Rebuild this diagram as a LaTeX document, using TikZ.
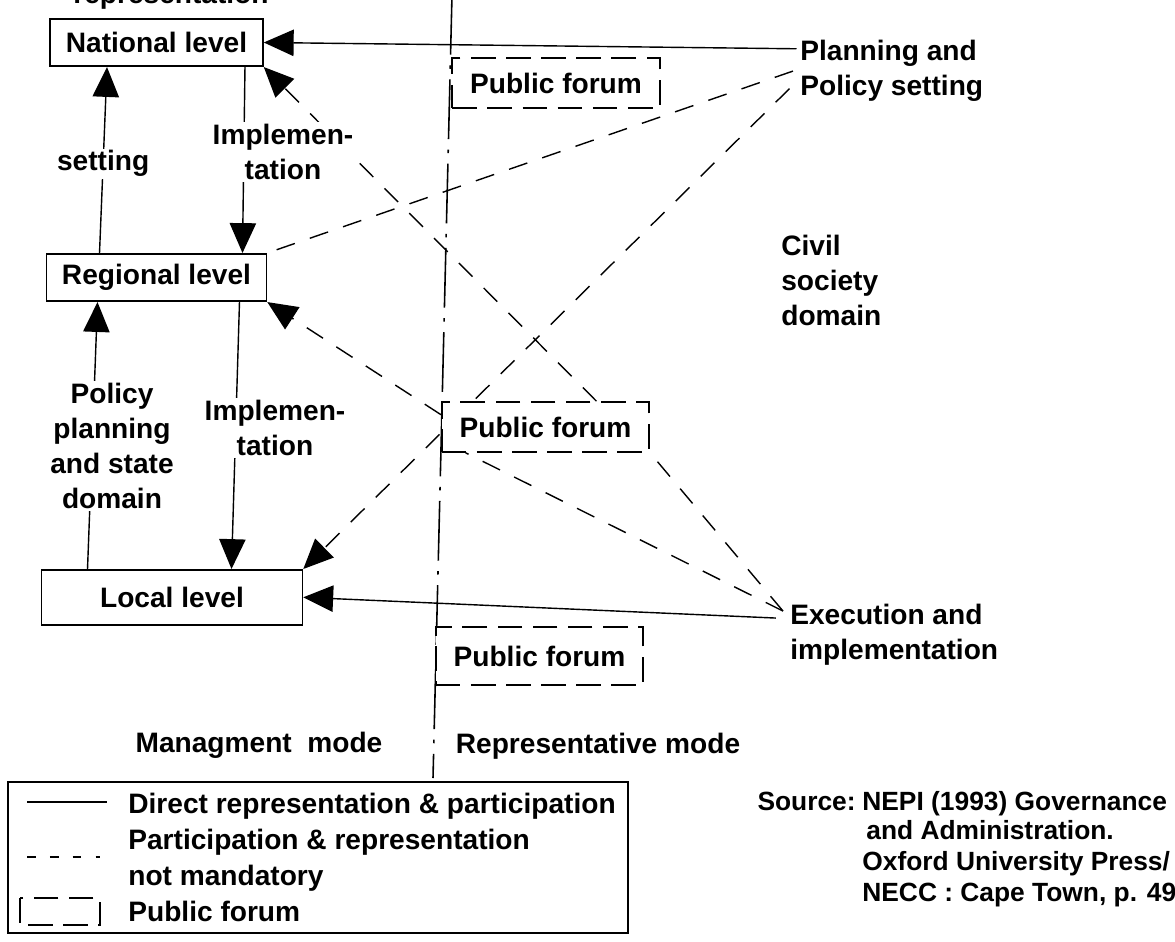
\documentclass[tikz,border=0pt]{standalone}
\usepackage{fontspec}
\setmainfont{Liberation Sans}
\usetikzlibrary{arrows.meta,positioning}

\begin{document}
\begin{tikzpicture}[
    x=0.02cm, y=-0.02cm,
    font=\bfseries\fontsize{16}{20}\selectfont,
    level/.style={rectangle, draw, line width=0.9pt, fill=white, inner sep=2pt, minimum height=0.95cm},
    forum/.style={rectangle, draw, line width=0.9pt, fill=white, dash pattern=on 14pt off 6pt, minimum width=4.15cm, minimum height=1cm},
    lbl/.style={fill=white, align=center, inner sep=1pt},
    txt/.style={align=left, inner sep=0pt},
    src/.style={txt, anchor=base west, font=\bfseries\fontsize{15}{18}\selectfont},
    line/.style={draw, line width=0.8pt, -{Triangle[length=17pt,width=15pt]}},
    dline/.style={line, dash pattern=on 11pt off 9pt},
    dpath/.style={draw, line width=0.8pt, dash pattern=on 11pt off 9pt},
    sline/.style={draw, line width=0.8pt},
    divider/.style={draw, line width=0.9pt, dash pattern=on 34pt off 6pt on 2pt off 6pt}
]
\pgfdeclarelayer{bg}
\pgfsetlayers{bg,main}
\useasboundingbox (0,0) rectangle (1175,942);

% ----------------------------
% State side: the three levels
% ----------------------------
\node[txt, anchor=base] (repr) at (171,4) {representation};
\node[level, minimum width=4.26cm] (national) at (156.5,42.5) {National level};
\node[level, minimum width=4.4cm, below=3.72cm of national] (regional) {Regional level};
\node[level, minimum width=5.22cm, minimum height=1.1cm, below=5.34cm of regional, xshift=0.31cm] (local) {Local level};

\node[lbl] (implup) at (283,152) {Implemen-\\tation};
\node[lbl] (impldown) at (275,428) {Implemen-\\tation};
\node[lbl] (policy) at (112,446) {Policy\\planning\\and state\\domain};

% ----------------------------
% Civil society side
% ----------------------------
\node[txt, anchor=north west] (planning) at (800,40) {Planning and\\Policy setting};
\node[txt, anchor=north west] (civil) at (781,235) {Civil\\society\\domain};
\node[txt, anchor=north west] (exec) at (790,604) {Execution and\\implementation};

\coordinate (planin) at ([xshift=-2pt,yshift=-5pt]planning.north west);
\coordinate (planout) at ([xshift=-4pt]planning.west);
\coordinate (planlow) at ([xshift=-6pt,yshift=-10pt]planning.west);
\coordinate (execin) at ([xshift=-8pt,yshift=-8pt]exec.north west);
\coordinate (execout) at ([xshift=-4pt,yshift=-4pt]exec.north west);

% public forums along the mode divider
\node[forum] (forumtop) at (556,83) {Public forum};
\node[forum] (forummid) at (545.5,427) {Public forum};
\node[forum, minimum height=1.16cm] (forumlow) at (539.5,656) {Public forum};

\coordinate (divtop) at (452,-5);
\coordinate (divbot) at (433,778);
\node (mgmt) at (259,745) {Managment\ \ mode};
\node (repmode) at (598,746) {Representative mode};

% ----------------------------
% Edges (background layer)
% ----------------------------
\begin{pgfonlayer}{bg}
\path[divider] (divtop) -- (divbot);

% up and down the state hierarchy
\path[line] ([xshift=-1.14cm]regional.north) -- node[lbl, pos=0.48] (setting) {setting} ([xshift=-0.99cm]national.south);
\path[line] ([xshift=1.77cm]national.south) -- ([xshift=1.72cm]regional.north);
\path[line] ([xshift=1.66cm]regional.south) -- ([xshift=1.19cm]local.north);
\path[line] ([xshift=-1.69cm]local.north) -- ([xshift=-1.18cm]regional.south);

% direct links
\path[line] (planin) -- (national.east);
\path[line] (execin) -- (local.east);

% optional links, partly through the middle forum
\path[dpath] (planout) -- (regional.north east);
\path[dline] (planlow) -- (local.north east);
\path[dpath] (execout) -- ([xshift=14pt]forummid.south west);
\path[dpath] (execout) -- (forummid.south east);
\path[dline] ([yshift=7pt]forummid.west) -- (regional.south east);
\path[dline] ([xshift=29pt]forummid.north) -- (national.south east);
\end{pgfonlayer}

% ----------------------------
% Legend and source
% ----------------------------
\node[draw, line width=0.9pt, minimum width=12.4cm, minimum height=3.02cm, inner sep=0pt] (legend) at (318,857.5) {};
\draw[sline] (27,802) -- (107,802);
\draw[sline, dash pattern=on 5pt off 8pt] (27,857) -- (100,857);
\draw[sline, dash pattern=on 14pt off 6pt] (20,898) rectangle (100,925);
\node[txt, anchor=base west] (lgdirect) at (128,813) {Direct representation \& participation};
\node[txt, anchor=base west] (lgoptional) at (128,849) {Participation \& representation};
\node[txt, anchor=base west] (lgnotmand) at (128,885) {not mandatory};
\node[txt, anchor=base west] (lgforum) at (128,921) {Public forum};

\node[src, anchor=base east] (source) at (856,810) {Source:};
\node[src] (srcnepi) at (862,810) {NEPI (1993) Governance};
\node[src] (srcadmin) at (866,839) {and Administration.};
\node[src] (srcoxford) at (862,870) {Oxford University Press/};
\node[src] (srcnecc) at (862,901) {NECC : Cape Town, p. 49};

\end{tikzpicture}
\end{document}
